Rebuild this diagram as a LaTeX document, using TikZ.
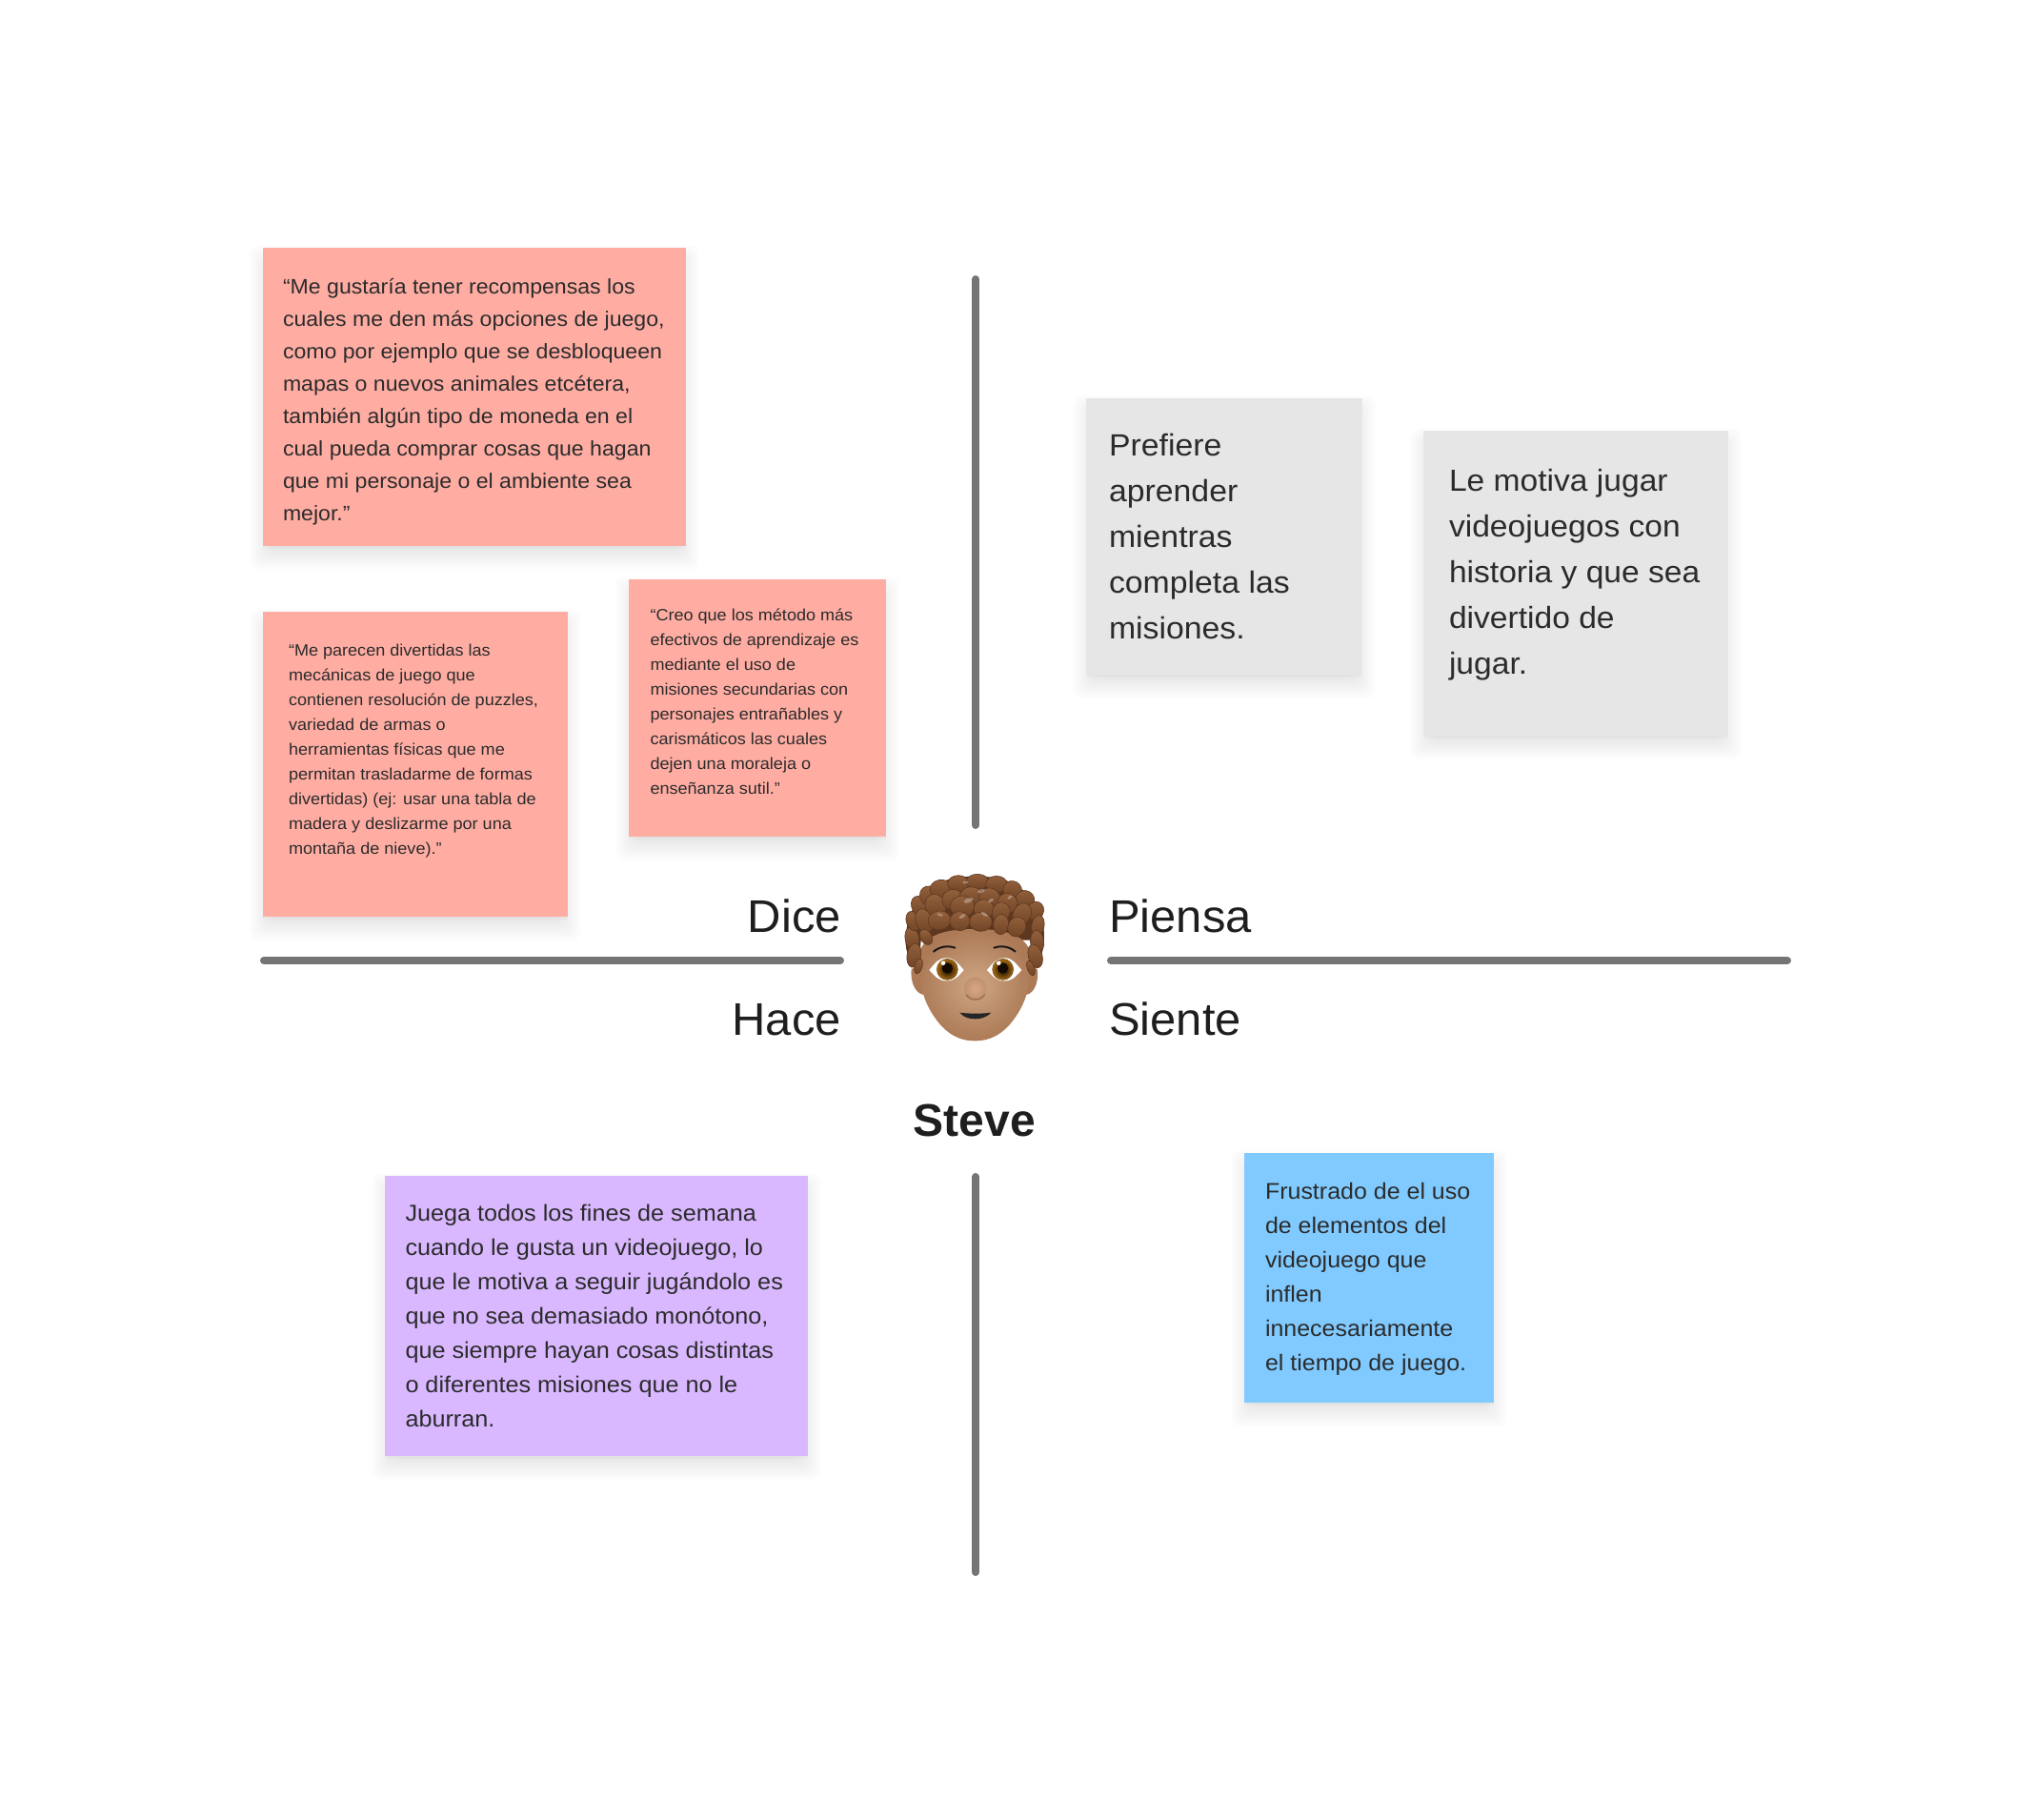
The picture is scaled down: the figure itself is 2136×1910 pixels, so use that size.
\documentclass[tikz,border=0pt]{standalone}
\usepackage{fontspec}
\setmainfont[FakeStretch=1.05]{Liberation Sans}
\newfontfamily\plainface{Liberation Sans}
\newfontfamily\labelface[FakeStretch=1.02]{Liberation Sans}
\definecolor{ink}{HTML}{1E1E1E}
\definecolor{note}{HTML}{2B2B2B}
\definecolor{axisgrey}{HTML}{757575}
\definecolor{noteRed}{HTML}{FFADA3}
\definecolor{noteGrey}{HTML}{E6E6E6}
\definecolor{notePurple}{HTML}{D9B8FF}
\definecolor{noteBlue}{HTML}{80CAFF}
\definecolor{skinA}{HTML}{CFA684}
\definecolor{skinM}{HTML}{C09170}
\definecolor{skinB}{HTML}{AC7A56}
\definecolor{noseC}{HTML}{D9A682}
\definecolor{hairBase}{HTML}{5E371F}
\definecolor{hairLight}{HTML}{92603C}
\definecolor{hairDark}{HTML}{704426}
\definecolor{irisOuter}{HTML}{A96C12}
\pgfdeclarelayer{paper}
\pgfsetlayers{paper,main}
% #1 width, #2 height, #3 left pad, #4 first baseline, #5 font size, #6 line skip, #7 text
\newcommand{\notebody}[7]{\parbox[c][#2pt][t]{#1pt}{%
  \fontsize{#5pt}{#6pt}\selectfont\color{note}\leftskip=#3pt\rightskip=0pt plus 1fil\parindent=0pt
  \vspace*{\dimexpr #4pt-0.7\baselineskip\relax}\strut #7}}
\tikzset{
  x=1pt,y=-1pt,
  sticky/.style={anchor=north west,inner sep=0pt,outer sep=0pt,fill=#1},
  axisline/.style={draw=axisgrey,line width=8pt,line cap=round},
  quadrant/.style={font=\labelface\fontsize{48pt}{48pt}\selectfont,text=ink,inner sep=0pt},
  curl/.style={top color=hairLight,bottom color=hairDark,draw=hairBase,line width=.6pt},
}
\begin{document}
\begin{tikzpicture}
\useasboundingbox (0,0) rectangle (2136,1910);
% axes
\coordinate (topA) at (1024,293); \coordinate (topB) at (1024,866);
\coordinate (botA) at (1024,1235); \coordinate (botB) at (1024,1650);
\coordinate (leftA) at (277,1008); \coordinate (leftB) at (882,1008);
\coordinate (rightA) at (1166,1008); \coordinate (rightB) at (1876,1008);
\draw[axisline] (topA) -- (topB);
\draw[axisline] (botA) -- (botB);
\draw[axisline] (leftA) -- (leftB);
\draw[axisline] (rightA) -- (rightB);
% notes
\node[sticky=noteRed] (n1) at (276,260) {\notebody{444}{313}{21}{48}{22}{34}{“Me gustaría tener recompensas los\\cuales me den más opciones de juego,\\como por ejemplo que se desbloqueen\\mapas o nuevos animales etcétera,\\también algún tipo de moneda en el\\cual pueda comprar cosas que hagan\\que mi personaje o el ambiente sea\\mejor.”}};
\node[sticky=noteRed] (n2) at (276,642) {\notebody{320}{320}{27}{46}{17.2}{26}{“Me parecen divertidas las\\mecánicas de juego que\\contienen resolución de puzzles,\\variedad de armas o\\herramientas físicas que me\\permitan trasladarme de formas\\divertidas) (ej: usar una tabla de\\madera y deslizarme por una\\montaña de nieve).”}};
\node[sticky=noteRed] (n3) at (660,608) {\notebody{270}{270}{22.5}{43}{17.2}{26}{“Creo que los método más\\efectivos de aprendizaje es\\mediante el uso de\\misiones secundarias con\\personajes entrañables y\\carismáticos las cuales\\dejen una moraleja o\\enseñanza sutil.”}};
\node[sticky=noteGrey] (n4) at (1140,418) {\notebody{290}{290}{24}{60}{32.2}{48}{Prefiere\\aprender\\mientras\\completa las\\misiones.}};
\node[sticky=noteGrey] (n5) at (1494,452) {\notebody{320}{320}{27}{63}{32}{48}{Le motiva jugar\\videojuegos con\\historia y que sea\\divertido de\\jugar.}};
\node[sticky=notePurple] (n6) at (404,1234) {\notebody{444}{294}{21.5}{47}{24}{36}{Juega todos los fines de semana\\cuando le gusta un videojuego, lo\\que le motiva a seguir jugándolo es\\que no sea demasiado monótono,\\que siempre hayan cosas distintas\\o diferentes misiones que no le\\aburran.}};
\node[sticky=noteBlue] (n7) at (1306,1210) {\notebody{262}{262}{22}{48}{23.8}{36}{Frustrado de el uso\\de elementos del\\videojuego que\\inflen\\innecesariamente\\el tiempo de juego.}};
% labels
\node[quadrant,anchor=base east] (dice) at (883,978) {Dice};
\node[quadrant,anchor=base east] (hace) at (883,1086) {Hace};
\node[quadrant,anchor=base west] (piensa) at (1164,978) {Piensa};
\node[quadrant,anchor=base west] (siente) at (1164,1086) {Siente};
\node[anchor=base,inner sep=0pt,text=ink,font=\plainface\bfseries\fontsize{48pt}{48pt}\selectfont] (steve) at (1023,1192) {Steve};
% paper and soft shadows of the notes, behind everything
\begin{pgfonlayer}{paper}
  \fill[white] (0,0) rectangle (2136,1910);
  \foreach \n in {n1,n2,n3,n4,n5,n6,n7}{
    \foreach \d in {-8,-6,...,14}{
      \fill[black,fill opacity=.006,rounded corners=8pt]
        ([xshift=-\d pt,yshift=\d pt-11pt]\n.north west) rectangle ([xshift=\d pt,yshift=-\d pt-11pt]\n.south east);
    }
    \fill[black,fill opacity=.02] ([xshift=0pt,yshift=-3pt]\n.north west) rectangle ([xshift=0pt,yshift=-3pt]\n.south east);
  }
\end{pgfonlayer}
% face (coordinates in 1/3 pixels)
\begin{scope}[shift={(950,920)},x=.3333pt,y=-.3333pt]
  % hair back and ears
  \fill[hairBase] (42,300) .. controls (10,270) and (-4,220) .. (3,180)
     .. controls (8,110) and (50,40) .. (110,18)
     .. controls (170,-8) and (290,-8) .. (340,22)
     .. controls (400,50) and (440,130) .. (438,190)
     .. controls (438,240) and (420,280) .. (395,305) -- (395,200) -- (50,200) -- cycle;
  \fill[skinB] (20,290) .. controls (16,325) and (28,366) .. (58,372) -- (70,280) -- cycle;
  \fill[skinB] (416,290) .. controls (422,325) and (410,366) .. (382,372) -- (370,280) -- cycle;
  % face
  \shade[inner color=skinA,outer color=skinB] (44,240)
     .. controls (40,330) and (55,400) .. (110,465)
     .. controls (150,510) and (190,517) .. (220,517)
     .. controls (250,517) and (290,510) .. (330,465)
     .. controls (385,400) and (400,330) .. (396,240)
     .. controls (380,190) and (330,165) .. (220,165)
     .. controls (110,165) and (60,190) .. (44,240) -- cycle;
  % curls
  \foreach \cx/\cy/\ra/\rb/\rr in {
    22/195/22/36/10, 28/248/22/38/-10, 42/282/12/24/-15, 26/140/22/32/20, 48/95/26/36/30,
    78/62/30/34/40, 112/38/34/28/10, 168/22/34/26/0, 228/16/36/24/0, 288/24/34/26/0, 338/42/30/28/-30,
    378/72/30/28/-30, 410/108/26/30/-25, 418/155/20/34/-10, 416/205/21/36/5, 410/250/22/38/15, 396/288/11/24/20,
    96/92/32/38/25, 150/72/34/32/15, 208/62/36/30/0, 266/66/34/30/-10, 322/84/32/32/-25, 368/118/28/36/-25,
    60/140/26/40/20, 180/94/38/34/0, 248/102/32/30/-10, 302/112/28/32/-20,
    108/138/36/30/10, 172/140/32/30/0, 238/142/36/30/0, 302/150/24/32/-5, 352/158/28/32/-25, 66/190/18/26/30}
  { \shade[curl,rotate around={\rr:(\cx,\cy)}] (\cx,\cy) ellipse [x radius=\ra,y radius=\rb]; }
  % highlights
  \foreach \cx/\cy/\ra/\rb/\rr in {
    200/75/16/7/20, 240/45/12/6/20, 180/125/12/5/30, 250/118/12/5/-30, 110/120/10/4/-20, 270/75/10/5/30, 190/18/9/4/0, 330/65/9/4/30}
  { \fill[white,opacity=.3,rotate around={\rr:(\cx,\cy)}] (\cx,\cy) ellipse [x radius=\ra,y radius=\rb]; }
  % brows
  \draw[black!90,line width=2pt,line cap=round] (90,236) .. controls (108,220) and (135,216) .. (157,224);
  \draw[black!90,line width=2pt,line cap=round] (280,224) .. controls (302,216) and (330,220) .. (347,236);
  % eyes
  \foreach \a/\b/\c/\ix in {76/131/185/133, 258/313/367/308}{
    \fill[white] (\a,294) .. controls (\a+20,270) and (\b-25,256) .. (\b,256)
        .. controls (\b+25,256) and (\c-20,272) .. (\c,294)
        .. controls (\c-20,316) and (\b+25,328) .. (\b,328)
        .. controls (\b-25,328) and (\a+20,316) .. (\a,294) -- cycle;
    \shade[inner color=black,outer color=irisOuter,draw=irisOuter!55!black,line width=.4pt] (\ix,292) circle [radius=33];
    \fill[black!92!orange] (\ix,288) circle [radius=17];
    \fill[white] (\ix-13,272) circle [radius=7];
  }
  % nose
  \shade[inner color=noseC,outer color=skinM] (221,352) ellipse [x radius=36,y radius=36];
  \draw[skinB!85!black,line width=1.6pt,line cap=round,opacity=.75] (193,372) .. controls (203,392) and (240,392) .. (250,372);
  % mouth
  \fill[black!85] (172,428) .. controls (200,432) and (245,432) .. (271,428)
      .. controls (255,445) and (235,448) .. (221,448)
      .. controls (205,448) and (185,445) .. (172,428) -- cycle;
\end{scope}
\end{tikzpicture}
\end{document}
